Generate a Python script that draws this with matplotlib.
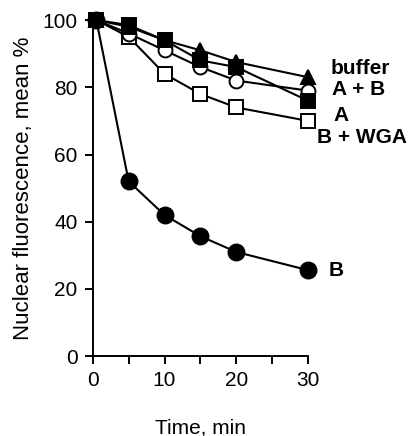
import matplotlib.pyplot as plt

plt.rcParams['font.family'] = ['Liberation Sans', 'DejaVu Sans']

tempo = [0.5, 5, 10, 15, 20, 30]
buffer_v = [100, 98, 94, 91, 87.5, 83]
a_mais_b = [100, 96, 91, 86, 82, 79]
a_v = [100, 98.5, 94, 88, 86, 76]
b_wga = [100, 95, 84, 78, 74, 70]
b_v = [100, 52, 42, 35.7, 31, 25.6]

rotulos = ["buffer", "A + B", "A", "B + WGA", "B"]
rotulo_x = [33.1, 33.4, 33.5, 31.3, 32.8]
rotulo_y = [85.7, 79.2, 71.7, 65.2, 25.6]

fig = plt.figure(figsize=(4.18, 4.36), dpi=100)
ax = fig.add_axes([0.222, 0.183, 0.515, 0.771])

estilo = dict(color='black', lw=1.5, clip_on=False, markeredgecolor='black', markeredgewidth=1.4)
ax.plot(tempo, b_wga, marker='s', markersize=9.5, markerfacecolor='white', **estilo)
ax.plot(tempo, a_mais_b, marker='o', markersize=10, markerfacecolor='white', **estilo)
ax.plot(tempo, a_v, marker='s', markersize=9.5, markerfacecolor='black', **estilo)
ax.plot(tempo, buffer_v, marker='^', markersize=10, markerfacecolor='black', **estilo)
ax.plot(tempo, b_v, marker='o', markersize=11.5, markerfacecolor='black', **estilo)

for txt, x, y in zip(rotulos, rotulo_x, rotulo_y):
    ax.text(x, y, txt, fontsize=15, fontweight='bold', va='center', ha='left', clip_on=False)

ax.set_xlim(0, 30)
ax.set_ylim(0, 100)
ax.set_xticks([0, 5, 10, 15, 20, 25, 30])
ax.set_xticklabels(['0', '', '10', '', '20', '', '30'])
ax.set_yticks([0, 20, 40, 60, 80, 100])
ax.tick_params(labelsize=15, width=1.4, length=6, direction='out', pad=5)
for lado in ['top', 'right']:
    ax.spines[lado].set_visible(False)
for lado in ['left', 'bottom']:
    ax.spines[lado].set_linewidth(1.4)
ax.set_xlabel('Time, min', fontsize=15)
ax.xaxis.set_label_coords(0.5, -0.185)
ax.set_ylabel('Nuclear fluorescence, mean %', fontsize=16, labelpad=6)

fig.savefig('out.png', dpi=100)
